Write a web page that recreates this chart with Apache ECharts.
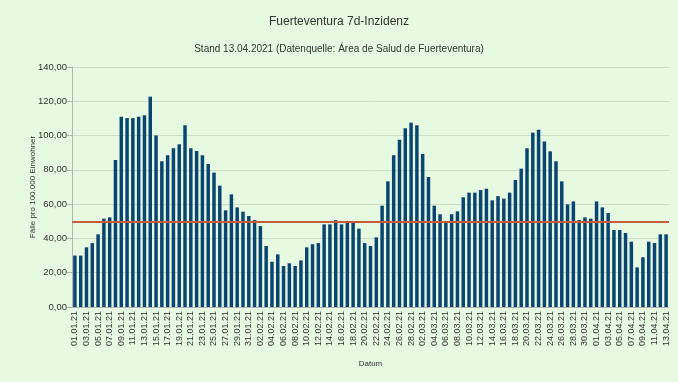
<!DOCTYPE html>
<html><head><meta charset="utf-8">
<script src="https://cdn.jsdelivr.net/npm/echarts@6/dist/echarts.min.js"></script>
<style>html,body{margin:0;padding:0;background:#e6f9e1;}#c{width:678px;height:382px;}</style>
</head><body><div id="c"></div>
<script>
const startDay = [2021, 0, 1];
const dayCount = 103;
const incidence = [
30,30,34.8,37.3,42.4,51.5,52.3,85.7,111,110.2,110.2,111,111.8,122.7,100.1,85,88.5,92.6,94.9,106,92.6,91,88.5,83.4,78.4,70.8,56.4,65.7,58.1,55.6,53.1,
50.7,47.2,35.6,26.4,30.7,23.9,25.5,23.9,27.2,34.8,36.6,37.3,48.2,48.2,50.7,48.2,49,49,45.7,37.3,35.6,40.6,59.1,73.3,88.5,97.6,104.2,107.5,106,89.2,75.8,
59.1,54.1,49.8,54.1,55.8,64,66.7,66.7,68.2,69,62.2,64.7,63.2,66.7,74.1,80.7,92.6,101.7,103.4,96.6,90.8,85,73.3,59.9,61.6,50.7,52.3,51.5,61.6,58.1,54.8,
44.9,44.9,43.2,38.1,23.1,29,38.1,37.3,42.4,42.4
];
const threshold = 50;
const yTicks = [0,20,40,60,80,100,120,140];

function pad(n){return (n<10?'0':'')+n;}
const dates = [];
for (let i=0;i<dayCount;i++){
  const d = new Date(Date.UTC(startDay[0], startDay[1], startDay[2]+i));
  dates.push(pad(d.getUTCDate())+'.'+pad(d.getUTCMonth()+1)+'.'+String(d.getUTCFullYear()).slice(2));
}

const chart = echarts.init(document.getElementById('c'));
chart.setOption({
  backgroundColor:'#e6f9e1',
  animation:false,
  title:[
    {text:'Fuerteventura 7d-Inzidenz', left:'center', top:11, textStyle:{fontFamily:'Liberation Sans', fontSize:12, fontWeight:'normal', color:'#333'}},
    {text:'Stand 13.04.2021 (Datenquelle: Área de Salud de Fuerteventura)', left:'center', top:39, textStyle:{fontFamily:'Liberation Sans', fontSize:10, fontWeight:'normal', color:'#333'}}
  ],
  grid:{left:72, right:9, top:67, bottom:75},
  xAxis:{
    type:'category', data:dates,
    name:'Datum', nameLocation:'middle', nameGap:53, nameMoveOverlap:false,
    nameTextStyle:{fontFamily:'Liberation Sans', fontSize:8, color:'#333'},
    axisLine:{lineStyle:{color:'#b3b3b3'}},
    axisTick:{interval:1, lineStyle:{color:'#b3b3b3'}},
    axisLabel:{interval:1, rotate:90, fontFamily:'Liberation Sans', fontSize:9, color:'#333', margin:4},
    splitLine:{show:false}
  },
  yAxis:{
    type:'value', min:yTicks[0], max:yTicks[yTicks.length-1], interval:20,
    name:'Fälle pro 100.000 Einwohner', nameLocation:'middle', nameGap:35, nameRotate:90, nameMoveOverlap:false,
    nameTextStyle:{fontFamily:'Liberation Sans', fontSize:8, color:'#333'},
    axisLine:{show:true, lineStyle:{color:'#b3b3b3'}},
    axisTick:{show:true, lineStyle:{color:'#b3b3b3'}},
    axisLabel:{fontFamily:'Liberation Sans', fontSize:9.5, color:'#333', margin:5, formatter:v=>v.toFixed(2).replace('.',',')},
    splitLine:{lineStyle:{color:'#cfdccb'}}
  },
  series:[{
    type:'bar', data:incidence, barCategoryGap:'40%',
    itemStyle:{color:'#0a4470'},
    markLine:{symbol:'none', silent:true, label:{show:false},
      lineStyle:{color:'#c85a3c', width:2, type:'solid'},
      data:[{yAxis:threshold}]}
  }]
});
</script></body></html>
